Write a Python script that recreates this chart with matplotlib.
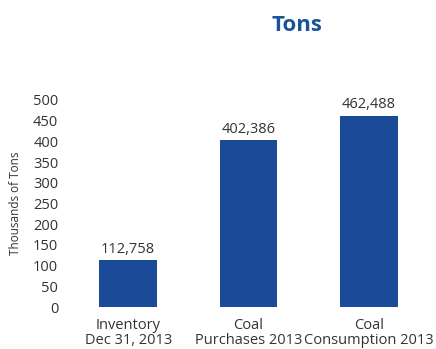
import matplotlib
matplotlib.use("Agg")
import matplotlib.pyplot as plt

categories = ["Inventory\nDec 31, 2013", "Coal\nPurchases 2013", "Coal\nConsumption 2013"]
tons = [112.758, 402.386, 462.488]
value_labels = ["112,758", "402,386", "462,488"]
yticks = [0, 50, 100, 150, 200, 250, 300, 350, 400, 450, 500]

plt.rcParams['font.family'] = ['Open Sans', 'DejaVu Sans']

fig = plt.figure(figsize=(4.36, 3.49), dpi=100)
ax = fig.add_axes([0.156, 0.1203, 0.828, 0.5932])

x = list(range(len(categories)))
bars = ax.bar(x, tons, width=0.48, color='#1b4a98')
for b, lab in zip(bars, value_labels):
    ax.text(b.get_x() + b.get_width() / 2, b.get_height() + 9, lab,
            ha='center', va='bottom', fontsize=10.5, color='#333333')

ax.set_xlim(-0.5, 2.5)
ax.set_ylim(0, 500)
ax.set_yticks(yticks)
ax.set_xticks(x)
ax.set_xticklabels(categories, fontsize=10.5, color='#333333', linespacing=1.0)
ax.tick_params(axis='y', labelsize=10.5, labelcolor='#333333', length=0, pad=7)
ax.tick_params(axis='x', length=0, pad=8)
for s in ax.spines.values():
    s.set_visible(False)
ax.set_ylabel("Thousands of Tons", fontsize=8.5, color='#333333', labelpad=8)

fig.text(0.681, 0.928, "Tons", ha='center', va='center', fontsize=16,
         fontweight='bold', color='#1a5496')

fig.savefig("out.png", dpi=100)
